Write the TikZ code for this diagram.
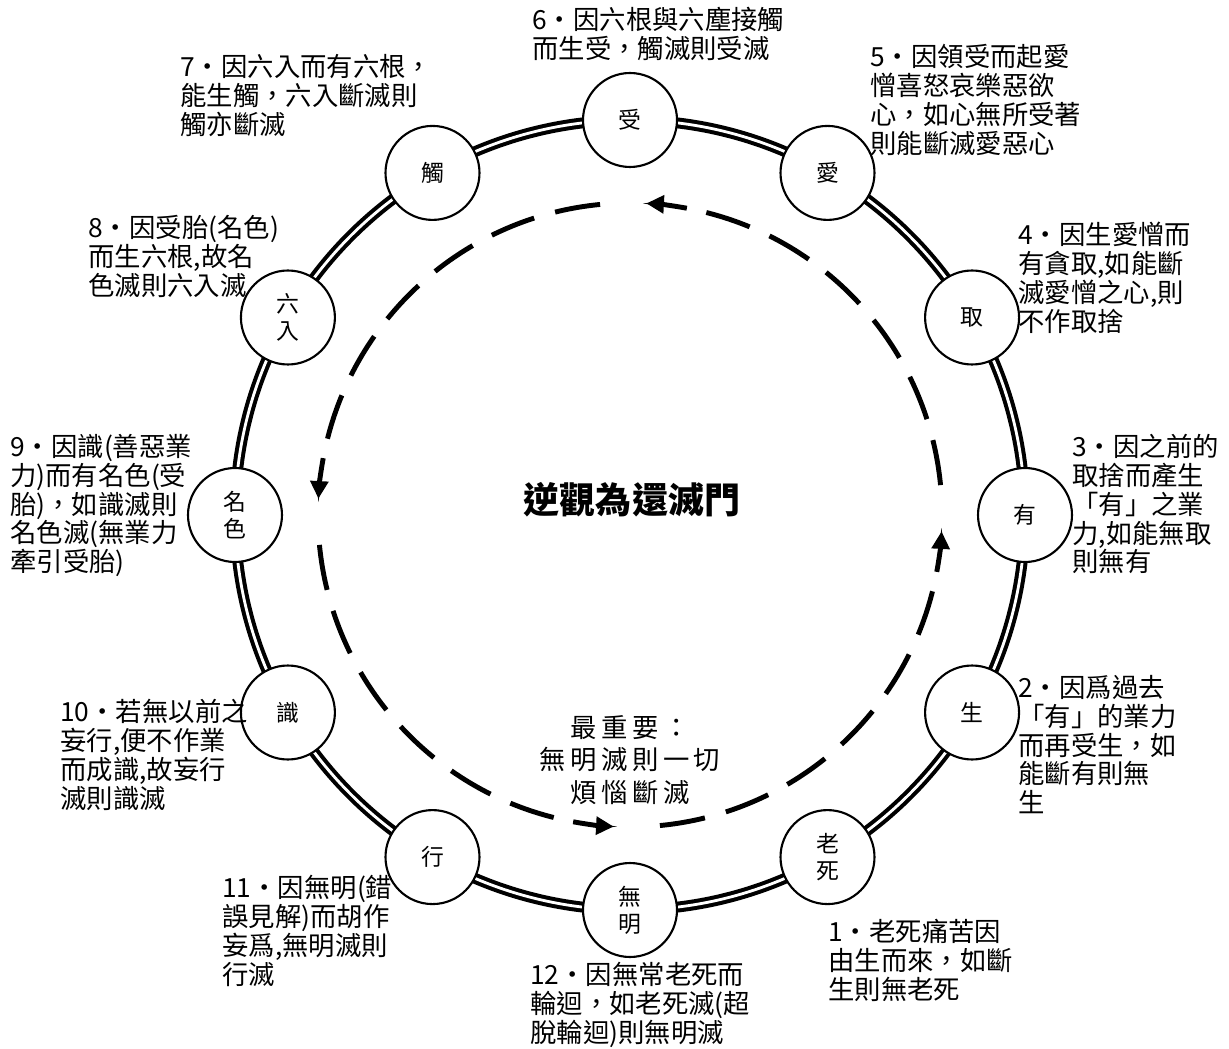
\documentclass[tikz,border=0pt]{standalone}
\usepackage{fontspec}
\setmainfont{Noto Sans CJK TC}
\newfontfamily\spacedfont[LetterSpace=17]{Noto Sans CJK TC}
\usetikzlibrary{arrows.meta}

\begin{document}
\begin{tikzpicture}[x=0.02cm, y=0.02cm, every node/.style={align=left, inner sep=0pt}]
    \tikzstyle{stage}=[circle, draw, line width=1.2pt, fill=white, minimum size=1.88cm, align=center, font=\fontsize{13}{15.4}\selectfont];
    \tikzstyle{note}=[anchor=north west, font=\fontsize{15}{16.4}\selectfont];
    \tikzstyle{ringline}=[line width=2.3pt, double, double distance=1.6pt];
    \tikzstyle{flowline}=[line width=2.8pt, dash pattern=on 26pt off 12.4pt];
    \tikzstyle{flowhead}=[line width=2.8pt, -{Triangle[length=10pt, width=10pt]}];
    \useasboundingbox (-630,-533) rectangle (599,515);
    % outer ring
    \draw[ringline] (0,0) circle[radius=7.9cm];
    % reversed flow (counter-clockwise)
    \draw[flowline] (5.5:312) arc[start angle=5.5, end angle=76, radius=6.24cm];
    \draw[flowhead] (79.5:312) arc[start angle=79.5, end angle=87, radius=6.24cm];
    \draw[flowline] (95.5:312) arc[start angle=95.5, end angle=166, radius=6.24cm];
    \draw[flowhead] (169.5:312) arc[start angle=169.5, end angle=177, radius=6.24cm];
    \draw[flowline] (185.5:312) arc[start angle=185.5, end angle=256, radius=6.24cm];
    \draw[flowhead] (259.5:312) arc[start angle=259.5, end angle=267, radius=6.24cm];
    \draw[flowline] (275.5:312) arc[start angle=275.5, end angle=346, radius=6.24cm];
    \draw[flowhead] (349.5:312) arc[start angle=349.5, end angle=357, radius=6.24cm];
    % twelve links
    \node[stage] (shou) at (90:395) {受};
    \node[stage] (ai) at (60:395) {愛};
    \node[stage] (qu) at (30:395) {取};
    \node[stage] (you) at (0:395) {有};
    \node[stage] (sheng) at (-30:395) {生};
    \node[stage] (laosi) at (-60:395) {老\\死};
    \node[stage] (wuming) at (-90:395) {無\\明};
    \node[stage] (xing) at (-120:395) {行};
    \node[stage] (shi) at (-150:395) {識};
    \node[stage] (mingse) at (180:395) {名\\色};
    \node[stage] (liuru) at (150:395) {六\\入};
    \node[stage] (chu) at (120:395) {觸};
    % centre texts
    \node[font=\fontsize{20.5}{24}\selectfont\bfseries] (title) at (2,15) {逆觀為還滅門};
    \node[align=center, font=\spacedfont\fontsize{15}{18.5}\selectfont] (key) at (0,-245) {最重要：\\無明滅則一切\\煩惱斷滅};
    % notes
    \node[note] (noteLaosi) at (198,-404) {1・老死痛苦因\\由生而來，如斷\\生則無老死};
    \node[note] (noteSheng) at (388,-160) {2・因爲過去\\「有」的業力\\而再受生，如\\能斷有則無\\生};
    \node[note] (noteYou) at (442,81) {3・因之前的\\取捨而產生\\「有」之業\\力,如能無取\\則無有};
    \node[note] (noteQu) at (388,293) {4・因生愛憎而\\有貪取,如能斷\\滅愛憎之心,則\\不作取捨};
    \node[note] (noteAi) at (240,471) {5・因領受而起愛\\憎喜怒哀樂惡欲\\心，如心無所受著\\則能斷滅愛惡心};
    \node[note] (noteShou) at (-98,508) {6・因六根與六塵接觸\\而生受，觸滅則受滅};
    \node[note] (noteChu) at (-450,461) {7・因六入而有六根，\\能生觸，六入斷滅則\\觸亦斷滅};
    \node[note] (noteLiuru) at (-542,300) {8·因受胎(名色)\\而生六根,故名\\色滅則六入滅};
    \node[note] (noteMingse) at (-620,81) {9・因識(善惡業\\力)而有名色(受\\胎)，如識滅則\\名色滅(無業力\\牽引受胎)};
    \node[note] (noteShi) at (-570,-184) {10·若無以前之\\妄行,便不作業\\而成識,故妄行\\滅則識滅};
    \node[note] (noteXing) at (-408,-360) {11・因無明(錯\\誤見解)而胡作\\妄爲,無明滅則\\行滅};
    \node[note] (noteWuming) at (-100,-447) {12・因無常老死而\\輪迴，如老死滅(超\\脫輪迴)則無明滅};
\end{tikzpicture}
\end{document}
